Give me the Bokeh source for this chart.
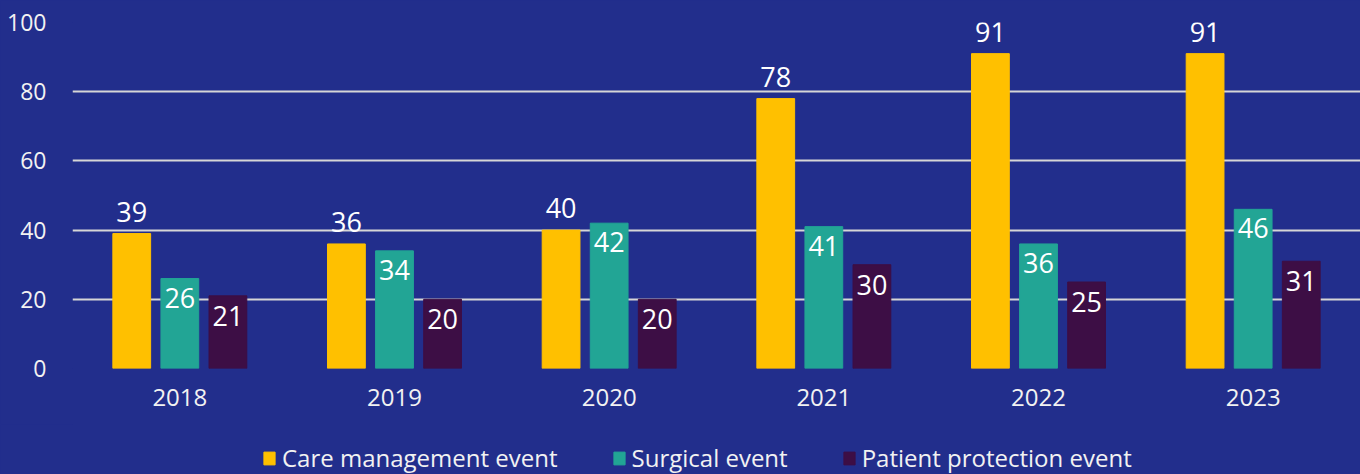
from bokeh.plotting import figure
from bokeh.models import ColumnDataSource, LabelSet, Legend, LegendItem, FixedTicker
from bokeh.layouts import column
from bokeh.transform import dodge
from bokeh.core.properties import value
from bokeh.embed import file_html
from bokeh.resources import INLINE

years = ["2018", "2019", "2020", "2021", "2022", "2023"]
care = [39, 36, 40, 78, 91, 91]
surgical = [26, 34, 42, 41, 36, 46]
patient = [21, 20, 20, 30, 25, 31]
series_names = ["Care management event", "Surgical event", "Patient protection event"]
y_ticks = [0, 20, 40, 60, 80, 100]

BG = "#222E8C"
COLORS = ["#FFC000", "#22A595", "#3D0E45"]
FONT = "Open Sans"

src = ColumnDataSource(dict(years=years, care=care, surgical=surgical, patient=patient,
                            care_t=[str(v) for v in care],
                            surgical_t=[str(v) for v in surgical],
                            patient_t=[str(v) for v in patient]))

p = figure(x_range=years, y_range=(0, 100), width=1360, height=424,
           output_backend="svg", toolbar_location=None,
           min_border_left=72, min_border_right=0, min_border_top=22, min_border_bottom=56)
p.background_fill_color = BG
p.border_fill_color = BG
p.outline_line_color = None

offs = [-0.224, 0.0, 0.224]
cols = ["care", "surgical", "patient"]
for off, col, color in zip(offs, cols, COLORS):
    p.vbar(x=dodge("years", off, range=p.x_range), top=col, width=0.176,
           source=src, fill_color=color, line_color=color)

# value labels
label_cfg = [("care", "care_t", 12), ("surgical", "surgical_t", -29), ("patient", "patient_t", -30)]
for off, (ycol, tcol, yoff) in zip(offs, label_cfg):
    p.add_layout(LabelSet(x=dodge("years", off, range=p.x_range), y=ycol, text=tcol,
                          source=src, text_align="center", text_baseline="alphabetic",
                          y_offset=yoff, text_color="white", text_font=value(FONT),
                          text_font_size="27px"))

p.xgrid.grid_line_color = None
p.ygrid.grid_line_color = "#D6D6D6"
p.ygrid.grid_line_width = 2
p.yaxis.ticker = FixedTicker(ticks=y_ticks)

for ax in (p.xaxis, p.yaxis):
    ax.axis_line_color = None
    ax.major_tick_line_color = None
    ax.minor_tick_line_color = None
    ax.major_tick_in = 0
    ax.major_tick_out = 0
    ax.major_label_text_color = "#F2F2F2"
    ax.major_label_text_font = FONT
p.yaxis.major_label_text_font_size = "23px"
p.xaxis.major_label_text_font_size = "24px"
p.yaxis.major_label_standoff = 26
p.xaxis.major_label_standoff = 20

# legend strip below the chart
p2 = figure(x_range=years, y_range=(1000, 1001), width=1360, height=50,
            output_backend="svg", toolbar_location=None,
            min_border_left=0, min_border_right=0, min_border_top=0, min_border_bottom=0)
p2.background_fill_color = BG
p2.border_fill_color = BG
p2.outline_line_color = None
p2.axis.visible = False
p2.grid.visible = False
leg_renderers = []
for off, col, color in zip(offs, cols, COLORS):
    r = p2.vbar(x=dodge("years", off, range=p2.x_range), top=col, width=0.176,
                source=src, fill_color=color, line_color=color)
    leg_renderers.append(r)

legend = Legend(items=[LegendItem(label=n, renderers=[r]) for n, r in zip(series_names, leg_renderers)],
                orientation="horizontal", location=(190, 0),
                background_fill_alpha=0, border_line_color=None,
                label_text_color="#F2F2F2", label_text_font=FONT, label_text_font_size="24px",
                glyph_width=14, glyph_height=16, label_standoff=6, spacing=54,
                padding=0, margin=0)
p2.add_layout(legend, "center")

layout = column(p, p2, spacing=0)
html = file_html(layout, INLINE)
html = html.replace("</head>", "<style>html,body{background:%s;}</style></head>" % BG)
open("out.html", "w").write(html)
